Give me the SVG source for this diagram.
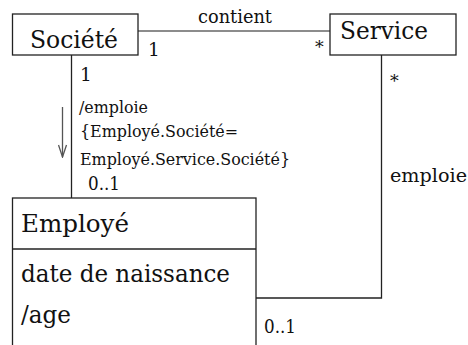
<svg xmlns="http://www.w3.org/2000/svg" width="468" height="345" viewBox="0 0 468 345" font-family="DejaVu Serif, serif">
<style>
.box{fill:#fff;stroke:#222;stroke-width:1.3}
.ln{fill:none;stroke:#222;stroke-width:1.3}
text{fill:#111}
.big{font-size:25px}
.med{font-size:17.5px}
.lbl{font-size:18.5px}
</style>
<defs>
<marker id="open" viewBox="0 0 14 10" refX="13" refY="5" markerWidth="14" markerHeight="10" markerUnits="userSpaceOnUse" orient="auto">
<path d="M1,1 L13,5 L1,9" fill="none" stroke="#555" stroke-width="1.3"/>
</marker>
</defs>
<rect width="468" height="345" fill="#fff"/>
<g id="connectors">
<line x1="138" y1="31" x2="330" y2="31" stroke="#666" stroke-width="1.6"/>
<text class="lbl" x="198" y="23" textLength="74" lengthAdjust="spacingAndGlyphs">contient</text>
<text class="lbl" x="148" y="56">1</text>
<text class="med" x="315" y="53">*</text>
<line class="ln" x1="71.5" y1="55" x2="71.5" y2="198"/>
<text class="lbl" x="80" y="81">1</text>
<text class="med" x="79" y="113" textLength="69" lengthAdjust="spacingAndGlyphs">/emploie</text>
<text class="med" x="80" y="137" textLength="158" lengthAdjust="spacingAndGlyphs">{Employé.Société=</text>
<text class="med" x="80" y="165" textLength="210" lengthAdjust="spacingAndGlyphs">Employé.Service.Société}</text>
<text class="lbl" x="88" y="190" textLength="32" lengthAdjust="spacingAndGlyphs">0..1</text>
<line x1="62.5" y1="107" x2="62.5" y2="157" stroke="#555" stroke-width="1.3" marker-end="url(#open)"/>
<polyline class="ln" points="381.5,55 381.5,298 256,298"/>
<text class="med" x="390" y="87">*</text>
<text class="lbl" x="390" y="182" textLength="77" lengthAdjust="spacingAndGlyphs">emploie</text>
<text class="lbl" x="264" y="333" textLength="32" lengthAdjust="spacingAndGlyphs">0..1</text>
</g>
<g id="societe">
<rect class="box" x="12.5" y="14" width="125.5" height="41"/>
<text class="big" x="30" y="48" textLength="88" lengthAdjust="spacingAndGlyphs">Société</text>
</g>
<g id="service">
<rect class="box" x="330" y="14" width="126" height="41"/>
<text class="big" x="340" y="39" textLength="88" lengthAdjust="spacingAndGlyphs">Service</text>
</g>
<g id="employe">
<rect class="box" x="12.5" y="198" width="243.5" height="160"/>
<line class="ln" x1="12.5" y1="249" x2="256" y2="249"/>
<text class="big" x="21" y="232" textLength="108" lengthAdjust="spacingAndGlyphs">Employé</text>
<text class="big" x="21" y="282" textLength="209" lengthAdjust="spacingAndGlyphs">date de naissance</text>
<text class="big" x="21" y="323" textLength="50" lengthAdjust="spacingAndGlyphs">/age</text>
</g>
</svg>
